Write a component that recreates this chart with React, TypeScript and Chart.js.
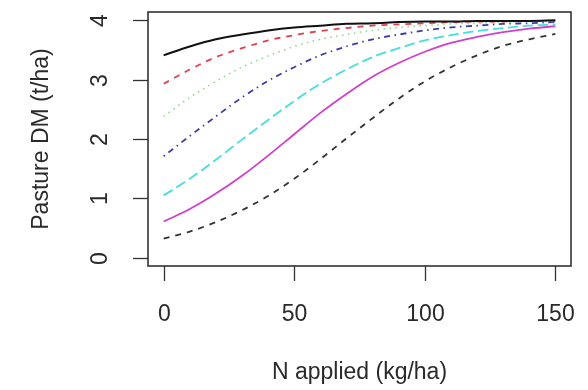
import React, { useEffect, useRef } from "react";
import { Chart, registerables } from "chart.js";

Chart.register(...registerables);

const nApplied = [0, 10, 20, 30, 40, 50, 60, 70, 80, 90, 100, 110, 120, 130, 140, 150];

const curve1 = [3.41, 3.56, 3.68, 3.76, 3.83, 3.88, 3.91, 3.94, 3.95, 3.97, 3.98, 3.98, 3.99, 3.99, 3.99, 4.0];
const curve2 = [2.93, 3.17, 3.38, 3.53, 3.66, 3.75, 3.82, 3.87, 3.91, 3.93, 3.95, 3.97, 3.98, 3.98, 3.99, 3.99];
const curve3 = [2.38, 2.7, 2.97, 3.21, 3.4, 3.56, 3.68, 3.76, 3.83, 3.88, 3.91, 3.94, 3.95, 3.97, 3.98, 3.98];
const curve4 = [1.71, 2.05, 2.38, 2.7, 2.98, 3.21, 3.41, 3.56, 3.68, 3.76, 3.83, 3.88, 3.91, 3.94, 3.95, 3.97];
const curve5 = [1.05, 1.33, 1.65, 1.99, 2.32, 2.64, 2.93, 3.17, 3.38, 3.53, 3.66, 3.75, 3.82, 3.87, 3.91, 3.93];
const curve6 = [0.61, 0.82, 1.08, 1.38, 1.72, 2.08, 2.44, 2.76, 3.05, 3.28, 3.47, 3.62, 3.72, 3.8, 3.86, 3.9];
const curve7 = [0.32, 0.44, 0.6, 0.8, 1.04, 1.33, 1.66, 2.01, 2.35, 2.68, 2.97, 3.21, 3.41, 3.57, 3.68, 3.77];

const xTicks = [0, 50, 100, 150];
const yTicks = [0, 1, 2, 3, 4];
const xTitle = "N applied (kg/ha)";
const yTitle = "Pasture DM (t/ha)";

const FONT = '23px "Liberation Sans", Arial, sans-serif';
const TEXT = "#2a2a2a";
const AXIS = "#333333";

const seriesDefs = [
  { data: curve1, color: "#111111", dash: [] as number[], width: 2 },
  { data: curve2, color: "#e0404f", dash: [6, 6], width: 1.8 },
  { data: curve3, color: "#8fd68f", dash: [1.5, 4.5], width: 1.6 },
  { data: curve4, color: "#3c3ca8", dash: [1.5, 4.5, 6, 4.5], width: 1.8 },
  { data: curve5, color: "#46dede", dash: [10.5, 4.5], width: 1.8 },
  { data: curve6, color: "#d040c8", dash: [] as number[], width: 1.8 },
  { data: curve7, color: "#333333", dash: [6, 6], width: 1.8 },
];

const axesPlugin = {
  id: "rAxes",
  afterDraw(chart: any) {
    const { ctx, chartArea, scales } = chart;
    const xs = scales.x;
    const ys = scales.y;
    ctx.save();
    // box
    ctx.strokeStyle = AXIS;
    ctx.lineWidth = 1.6;
    ctx.setLineDash([]);
    ctx.strokeRect(chartArea.left, chartArea.top, chartArea.right - chartArea.left, chartArea.bottom - chartArea.top);
    // x ticks
    ctx.lineWidth = 1.3;
    ctx.font = FONT;
    ctx.fillStyle = TEXT;
    ctx.textAlign = "center";
    ctx.textBaseline = "middle";
    xTicks.forEach((v) => {
      const px = Math.round(xs.getPixelForValue(v)) + 0.5;
      ctx.beginPath();
      ctx.moveTo(px, chartArea.bottom);
      ctx.lineTo(px, chartArea.bottom + 15);
      ctx.stroke();
      ctx.fillText(String(v), px, 315);
    });
    // y ticks
    yTicks.forEach((v) => {
      const py = Math.round(ys.getPixelForValue(v)) + 0.5;
      ctx.beginPath();
      ctx.moveTo(chartArea.left, py);
      ctx.lineTo(chartArea.left - 15, py);
      ctx.stroke();
      ctx.save();
      ctx.translate(101, py);
      ctx.rotate(-Math.PI / 2);
      ctx.fillText(String(v), 0, 0);
      ctx.restore();
    });
    // titles
    ctx.fillText(xTitle, (chartArea.left + chartArea.right) / 2, 373);
    ctx.save();
    ctx.translate(42, (chartArea.top + chartArea.bottom) / 2);
    ctx.rotate(-Math.PI / 2);
    ctx.fillText(yTitle, 0, 0);
    ctx.restore();
    ctx.restore();
  },
};

export default function App() {
  const ref = useRef<HTMLCanvasElement>(null);
  useEffect(() => {
    document.body.style.margin = "0";
    const canvas = ref.current!;
    const chart = new Chart(canvas, {
      type: "line",
      data: {
        labels: nApplied,
        datasets: seriesDefs.map((s, i) => ({
          label: "curve " + (i + 1),
          data: nApplied.map((x, j) => ({ x, y: s.data[j] })),
          borderColor: s.color,
          borderDash: s.dash,
          borderWidth: s.width,
          pointRadius: 0,
          fill: false,
          cubicInterpolationMode: "monotone" as const,
        })),
      },
      options: {
        responsive: false,
        animation: false,
        layout: { padding: { left: 148, right: 17, top: 12, bottom: 124 } },
        plugins: { legend: { display: false }, tooltip: { enabled: false } },
        scales: {
          x: { type: "linear", min: -6, max: 156, display: false },
          y: { type: "linear", min: -0.14, max: 4.14, display: false },
        },
      },
      plugins: [axesPlugin],
    });
    return () => chart.destroy();
  }, []);
  return (
    <div style={{ position: "fixed", left: 0, top: 0, width: 588, height: 390, background: "#fff" }}>
      <canvas ref={ref} width={588} height={390} />
    </div>
  );
}
